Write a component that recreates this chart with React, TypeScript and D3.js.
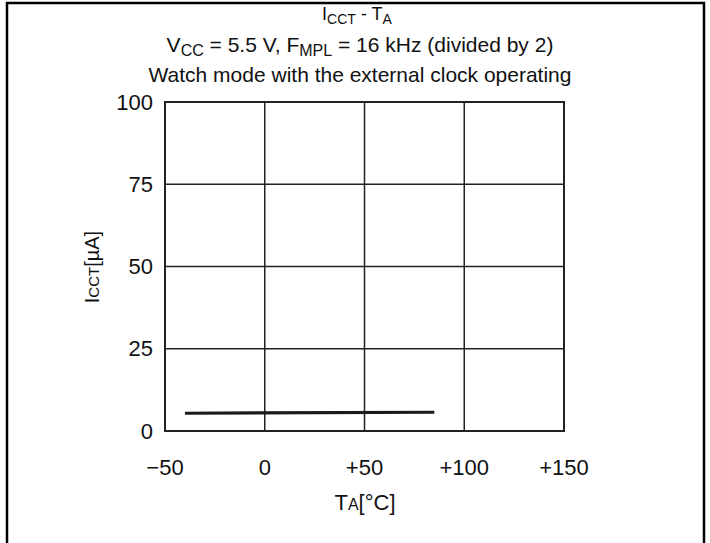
import React from "react";
import * as d3 from "d3";

const temps = [-40, 85];
const currents = [5.4, 5.7];
const xTicks = [-50, 0, 50, 100, 150];
const xTickLabels = ["\u221250", "0", "+50", "+100", "+150"];
const yTicks = [0, 25, 50, 75, 100];

const W = 710;
const H = 543;
const M = { left: 165, right: 564, top: 102, bottom: 431 };
const FONT = "Liberation Sans, Arial, sans-serif";

export default function App() {
  const x = d3.scaleLinear().domain([-50, 150]).range([M.left, M.right]);
  const y = d3.scaleLinear().domain([0, 100]).range([M.bottom, M.top]);
  const line = d3
    .line<number>()
    .x((_, i) => x(temps[i]))
    .y((d) => y(d));

  return (
    <svg
      width={W}
      height={H}
      style={{ position: "absolute", left: 0, top: 0, background: "#fff" }}
      fontFamily={FONT}
    >
      <path d={`M7,${H} V3 H704 V${H}`} fill="none" stroke="#000" strokeWidth={2.5} />

      <text x={357} y={20} textAnchor="middle" fontSize={18} fill="#111">
        I<tspan fontSize={14} dy={4}>CCT</tspan>
        <tspan dy={-4}> - T</tspan>
        <tspan fontSize={14} dy={4}>A</tspan>
      </text>
      <text x={360} y={52} textAnchor="middle" fontSize={21} fill="#111">
        V<tspan fontSize={16} dy={4}>CC</tspan>
        <tspan dy={-4}> = 5.5 V, F</tspan>
        <tspan fontSize={16} dy={4}>MPL</tspan>
        <tspan dy={-4}> = 16 kHz (divided by 2)</tspan>
      </text>
      <text x={360} y={82} textAnchor="middle" fontSize={21} fill="#111">
        Watch mode with the external clock operating
      </text>

      {yTicks.slice(1, -1).map((t) => (
        <line key={"gy" + t} x1={M.left} x2={M.right} y1={y(t)} y2={y(t)} stroke="#222" strokeWidth={1.5} />
      ))}
      {xTicks.slice(1, -1).map((t) => (
        <line key={"gx" + t} x1={x(t)} x2={x(t)} y1={M.top} y2={M.bottom} stroke="#222" strokeWidth={1.5} />
      ))}
      <rect
        x={M.left}
        y={M.top}
        width={M.right - M.left}
        height={M.bottom - M.top}
        fill="none"
        stroke="#222"
        strokeWidth={2}
      />

      <path d={line(currents) || ""} fill="none" stroke="#1a1a1a" strokeWidth={3.2} />

      {yTicks.map((t) => (
        <text key={"yl" + t} x={153} y={y(t)} dy="0.35em" textAnchor="end" fontSize={22} fill="#111">
          {t}
        </text>
      ))}
      {xTicks.map((t, i) => (
        <text key={"xl" + t} x={x(t)} y={475} textAnchor="middle" fontSize={22} fill="#111">
          {xTickLabels[i]}
        </text>
      ))}

      <text x={365} y={510} textAnchor="middle" fontSize={22} fill="#111">
        T<tspan fontSize={16}>A</tspan>[°C]
      </text>
      <text
        transform={`translate(99,267) rotate(-90)`}
        textAnchor="middle"
        fontSize={20}
        fill="#111"
      >
        I<tspan fontSize={15}>CCT</tspan>[µA]
      </text>
    </svg>
  );
}
